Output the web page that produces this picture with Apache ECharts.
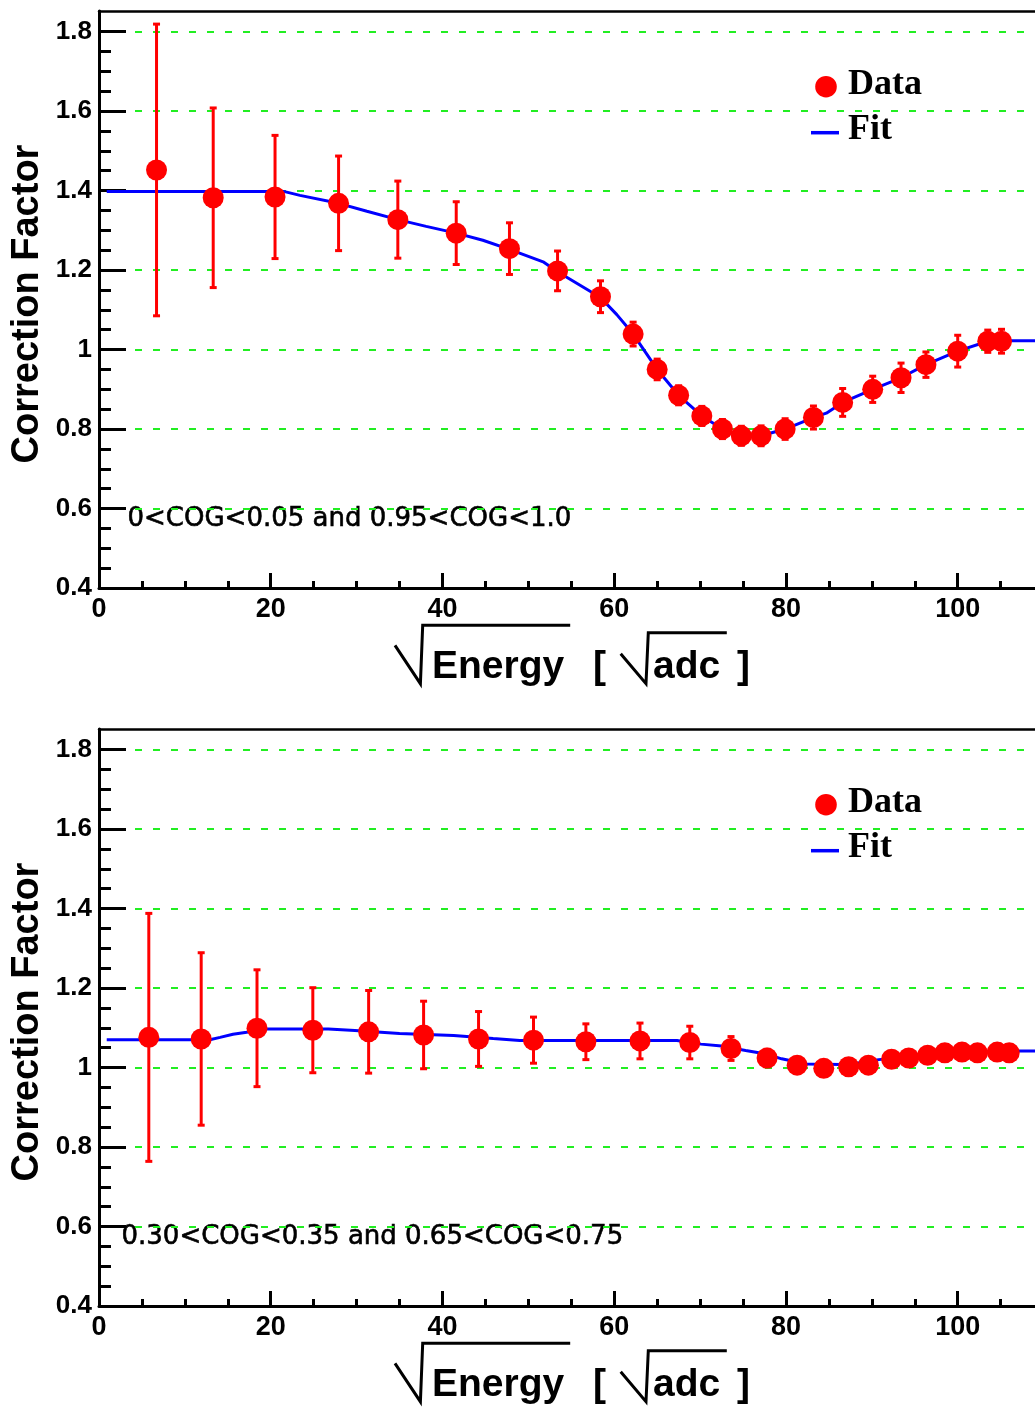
<!DOCTYPE html>
<html>
<head>
<meta charset="utf-8">
<title>Correction Factor vs sqrt(Energy)</title>
<script src="https://cdn.jsdelivr.net/npm/echarts@6/dist/echarts.min.js"></script>
<style>
  html, body { margin: 0; padding: 0; background: #ffffff; overflow: hidden; }
  #chart { width: 1035px; height: 1409px; }
</style>
</head>
<body>
<div id="chart"></div>
<script>
// ---- Upper panel: 0<COG<0.05 and 0.95<COG<1.0 ----
const energyTop = [6.7, 13.3, 20.5, 27.9, 34.8, 41.6, 47.8, 53.4, 58.4, 62.2, 65.0, 67.5, 70.2,
                   72.6, 74.8, 77.1, 79.9, 83.2, 86.6, 90.1, 93.4, 96.3, 100.0, 103.5, 105.1];
const corrTop   = [1.452, 1.382, 1.384, 1.368, 1.327, 1.293, 1.254, 1.198, 1.133, 1.039, 0.950, 0.885, 0.833,
                   0.800, 0.783, 0.783, 0.800, 0.829, 0.867, 0.900, 0.929, 0.962, 0.996, 1.021, 1.021];
const errTop    = [0.367, 0.226, 0.155, 0.119, 0.097, 0.079, 0.065, 0.050, 0.040, 0.030, 0.026, 0.024, 0.024,
                   0.024, 0.024, 0.025, 0.026, 0.029, 0.035, 0.033, 0.037, 0.032, 0.040, 0.028, 0.030];
const fitTopX   = [0.9, 21.5, 23.4, 27.9, 31.2, 34.8, 38.1, 41.6, 44.7, 47.8, 51.8, 53.4, 58.4, 60.3,
                   62.2, 65.0, 67.5, 70.2, 72.6, 74.8, 77.1, 79.9, 83.2, 84.7, 86.6, 90.1, 93.4, 96.3,
                   100.0, 103.5, 105.1, 109.0];
const fitTopY   = [1.398, 1.398, 1.388, 1.368, 1.348, 1.327, 1.310, 1.293, 1.275, 1.252, 1.220, 1.196, 1.131, 1.088,
                   1.039, 0.950, 0.885, 0.833, 0.800, 0.783, 0.783, 0.800, 0.829, 0.840, 0.867, 0.900, 0.929, 0.962,
                   0.996, 1.021, 1.022, 1.022];

// ---- Lower panel: 0.30<COG<0.35 and 0.65<COG<0.75 ----
const energyBot = [5.8, 11.9, 18.4, 24.9, 31.4, 37.8, 44.2, 50.6, 56.7, 63.0, 68.8, 73.6, 77.8,
                   81.3, 84.4, 87.3, 89.6, 92.3, 94.3, 96.5, 98.5, 100.5, 102.3, 104.6, 106.0];
const corrBot   = [1.076, 1.072, 1.099, 1.094, 1.090, 1.082, 1.072, 1.069, 1.065, 1.067, 1.063, 1.048, 1.024,
                   1.006, 0.998, 1.002, 1.006, 1.021, 1.024, 1.031, 1.037, 1.039, 1.037, 1.039, 1.037];
const errBot    = [0.312, 0.217, 0.147, 0.107, 0.104, 0.085, 0.069, 0.058, 0.045, 0.045, 0.041, 0.030, 0.022,
                   0.020, 0.020, 0.020, 0.020, 0.020, 0.020, 0.020, 0.020, 0.020, 0.020, 0.020, 0.020];
const fitBotX   = [0.9, 12.9, 14.1, 15.6, 17.2, 18.8, 26.7, 29.8, 35.0, 41.3, 45.9, 49.0, 67.3, 70.1,
                   72.5, 75.3, 77.7, 79.5, 82.4, 86.4, 88.5, 90.8, 94.3, 98.5, 102.3, 107.3, 109.0];
const fitBotY   = [1.070, 1.070, 1.076, 1.084, 1.089, 1.097, 1.097, 1.093, 1.086, 1.081, 1.073, 1.068, 1.068, 1.059,
                   1.054, 1.043, 1.034, 1.022, 1.009, 1.008, 1.012, 1.020, 1.027, 1.036, 1.039, 1.042, 1.042];

// ---- Axis ticks ----
const xMajorTicks = [0, 20, 40, 60, 80, 100];
const xMinorTicks = [5, 10, 15, 25, 30, 35, 45, 50, 55, 65, 70, 75, 85, 90, 95, 105];
const yMajorTicks = [0.4, 0.6, 0.8, 1.0, 1.2, 1.4, 1.6, 1.8];
const yGridLines  = [0.6, 0.8, 1.0, 1.2, 1.4, 1.6, 1.8];
const yMinorTicks = [0.45, 0.5, 0.55, 0.65, 0.7, 0.75, 0.85, 0.9, 0.95, 1.05, 1.1, 1.15,
                     1.25, 1.3, 1.35, 1.45, 1.5, 1.55, 1.65, 1.7, 1.75];
const xRange = [0, 109];
const yRange = [0.4, 1.852];

const panelLabels = ['0<COG<0.05 and 0.95<COG<1.0', '0.30<COG<0.35 and 0.65<COG<0.75'];
const yTitle = 'Correction Factor';
const legendNames = ['Data', 'Fit'];

const RED = '#ff0000', BLUE = '#0000ff', GREEN = '#22ee22', BLACK = '#000000';
const SANS = '"Liberation Sans", Arial, Helvetica, sans-serif';
const SERIF = '"Liberation Serif", "Times New Roman", serif';

const PANEL_TOP = [11, 729];
const PANEL_H = 577;
const PLOT_LEFT = 99;
const PLOT_W = 936;

const grids = [];
const xAxes = [];
const yAxes = [];
const series = [];
const graphics = [];

function fmtY(v) { return (Math.round(v * 10) / 10).toString(); }
function addGrid(top) {
  grids.push({ left: PLOT_LEFT, top: top, width: PLOT_W, height: PANEL_H, containLabel: false });
  return grids.length - 1;
}

PANEL_TOP.forEach(function (top, p) {
  // three stacked layers on the same rectangle: grid lines + data, major axes, minor ticks + frame
  const gData = addGrid(top);
  const gMajor = addGrid(top);
  const gMinor = addGrid(top);

  // data layer: hidden x axis, y axis that only draws the dashed grid lines
  const xDataIdx = xAxes.length;
  xAxes.push({
    type: 'value', gridIndex: gData, position: 'bottom', min: xRange[0], max: xRange[1], z: 0,
    axisLine: { show: false }, axisTick: { show: false }, axisLabel: { show: false }, splitLine: { show: false }
  });
  const yDataIdx = yAxes.length;
  yAxes.push({
    type: 'value', gridIndex: gData, position: 'left', min: yRange[0], max: yRange[1], z: 0,
    axisLine: { show: false },
    axisTick: { show: false, customValues: yGridLines },
    axisLabel: { show: false },
    splitLine: { show: true, lineStyle: { color: GREEN, width: 2, type: [7, 11] } }
  });

  // major axes: axis lines, long ticks and labels
  xAxes.push({
    type: 'value', gridIndex: gMajor, position: 'bottom', min: xRange[0], max: xRange[1], z: 1,
    axisLine: { show: true, onZero: false, lineStyle: { color: BLACK, width: 3 } },
    axisTick: { show: true, inside: true, length: 15, customValues: xMajorTicks, lineStyle: { color: BLACK, width: 3 } },
    axisLabel: { show: true, customValues: xMajorTicks, margin: 8,
      color: BLACK, fontFamily: SANS, fontWeight: 'bold', fontSize: 27 },
    splitLine: { show: false }
  });
  yAxes.push({
    type: 'value', gridIndex: gMajor, position: 'left', min: yRange[0], max: yRange[1], z: 1,
    axisLine: { show: true, onZero: false, lineStyle: { color: BLACK, width: 3 } },
    axisTick: { show: true, inside: true, length: 27, customValues: yMajorTicks, lineStyle: { color: BLACK, width: 3 } },
    axisLabel: { show: true, customValues: yMajorTicks, margin: 7, formatter: fmtY,
      color: BLACK, fontFamily: SANS, fontWeight: 'bold', fontSize: 26 },
    splitLine: { show: false }
  });

  // minor ticks and the top frame line
  xAxes.push({
    type: 'value', gridIndex: gMinor, position: 'bottom', min: xRange[0], max: xRange[1], z: 1,
    axisLine: { show: false },
    axisTick: { show: true, inside: true, length: 7, customValues: xMinorTicks, lineStyle: { color: BLACK, width: 3 } },
    axisLabel: { show: false }, splitLine: { show: false }
  });
  xAxes.push({
    type: 'value', gridIndex: gMinor, position: 'top', min: xRange[0], max: xRange[1], z: 1,
    axisLine: { show: true, onZero: false, lineStyle: { color: BLACK, width: 2.5 } },
    axisTick: { show: false }, axisLabel: { show: false }, splitLine: { show: false }
  });
  yAxes.push({
    type: 'value', gridIndex: gMinor, position: 'left', min: yRange[0], max: yRange[1], z: 1,
    axisLine: { show: false },
    axisTick: { show: true, inside: true, length: 12, customValues: yMinorTicks, lineStyle: { color: BLACK, width: 3 } },
    axisLabel: { show: false }, splitLine: { show: false }
  });

  const ex = p === 0 ? energyTop : energyBot;
  const cy = p === 0 ? corrTop : corrBot;
  const er = p === 0 ? errTop : errBot;
  const fx = p === 0 ? fitTopX : fitBotX;
  const fy = p === 0 ? fitTopY : fitBotY;

  series.push({
    name: 'Fit', type: 'line', xAxisIndex: xDataIdx, yAxisIndex: yDataIdx,
    data: fx.map(function (x, i) { return [x, fy[i]]; }),
    showSymbol: false, symbol: 'none', smooth: false, clip: true,
    lineStyle: { color: BLUE, width: 3 }, z: 3, silent: true
  });
  series.push({
    name: 'Data', type: 'custom', xAxisIndex: xDataIdx, yAxisIndex: yDataIdx,
    data: ex.map(function (x, i) { return [x, cy[i], er[i]]; }),
    encode: { x: 0, y: 1 },
    renderItem: function (params, api) {
      const x = api.value(0), y = api.value(1), e = api.value(2);
      const t = api.coord([x, y + e]);
      const b = api.coord([x, y - e]);
      const cap = 3.5;
      const st = { stroke: RED, lineWidth: 3, fill: null };
      return {
        type: 'group', children: [
          { type: 'line', shape: { x1: t[0], y1: t[1], x2: b[0], y2: b[1] }, style: st },
          { type: 'line', shape: { x1: t[0] - cap, y1: t[1], x2: t[0] + cap, y2: t[1] }, style: st },
          { type: 'line', shape: { x1: b[0] - cap, y1: b[1], x2: b[0] + cap, y2: b[1] }, style: st }
        ]
      };
    },
    z: 4, silent: true
  });
  series.push({
    name: 'Data', type: 'scatter', xAxisIndex: xDataIdx, yAxisIndex: yDataIdx,
    data: ex.map(function (x, i) { return [x, cy[i]]; }),
    symbol: 'circle', symbolSize: 21,
    itemStyle: { color: RED, opacity: 1 }, z: 5, silent: true
  });

  // panel texts: y title, x title with radicals, cut label, legend
  const dy = top - PANEL_TOP[0];
  graphics.push({
    type: 'text', x: 27.5, y: 304 + dy, rotation: Math.PI / 2,
    style: { text: yTitle, font: 'bold 38px ' + SANS, fill: BLACK, align: 'center', verticalAlign: 'middle' }
  });
  const midY = 667 + dy;
  const tfont = 'bold 39px ' + SANS;
  graphics.push({ type: 'text', x: 432, y: midY, style: { text: 'Energy', font: tfont, fill: BLACK, align: 'left', verticalAlign: 'middle' } });
  graphics.push({ type: 'text', x: 593, y: midY, style: { text: '[', font: tfont, fill: BLACK, align: 'left', verticalAlign: 'middle' } });
  graphics.push({ type: 'text', x: 653, y: midY, style: { text: 'adc', font: tfont, fill: BLACK, align: 'left', verticalAlign: 'middle' } });
  graphics.push({ type: 'text', x: 737, y: midY, style: { text: ']', font: tfont, fill: BLACK, align: 'left', verticalAlign: 'middle' } });
  graphics.push({
    type: 'polyline',
    shape: { points: [[395, 645.3 + dy], [420.4, 683.7 + dy], [422.7, 625.3 + dy], [570.2, 625.3 + dy]] },
    style: { stroke: BLACK, lineWidth: 3, fill: null }
  });
  graphics.push({
    type: 'polyline',
    shape: { points: [[620.7, 653.7 + dy], [646, 683.7 + dy], [648.3, 632.7 + dy], [726.8, 632.7 + dy]] },
    style: { stroke: BLACK, lineWidth: 3, fill: null }
  });
  graphics.push({
    type: 'text', x: p === 0 ? 127.5 : 121.5, y: 519.3 + dy,
    style: { text: panelLabels[p], font: '26px "DejaVu Sans", sans-serif', fill: BLACK,
      stroke: BLACK, lineWidth: 0.6, align: 'left', verticalAlign: 'middle' }
  });
  graphics.push({ type: 'circle', shape: { cx: 826, cy: 86.7 + dy, r: 10.8 }, style: { fill: RED } });
  graphics.push({ type: 'line', shape: { x1: 811, y1: 132.7 + dy, x2: 839, y2: 132.7 + dy }, style: { stroke: BLUE, lineWidth: 3.5 } });
  graphics.push({ type: 'text', x: 848, y: 84.6 + dy, style: { text: legendNames[0], font: 'bold 36px ' + SERIF, fill: BLACK, align: 'left', verticalAlign: 'middle' } });
  graphics.push({ type: 'text', x: 848, y: 129.5 + dy, style: { text: legendNames[1], font: 'bold 36px ' + SERIF, fill: BLACK, align: 'left', verticalAlign: 'middle' } });
});

const chart = echarts.init(document.getElementById('chart'), null, { renderer: 'canvas' });
chart.setOption({
  animation: false,
  backgroundColor: '#ffffff',
  grid: grids,
  xAxis: xAxes,
  yAxis: yAxes,
  series: series,
  graphic: { elements: graphics }
});
</script>
</body>
</html>
